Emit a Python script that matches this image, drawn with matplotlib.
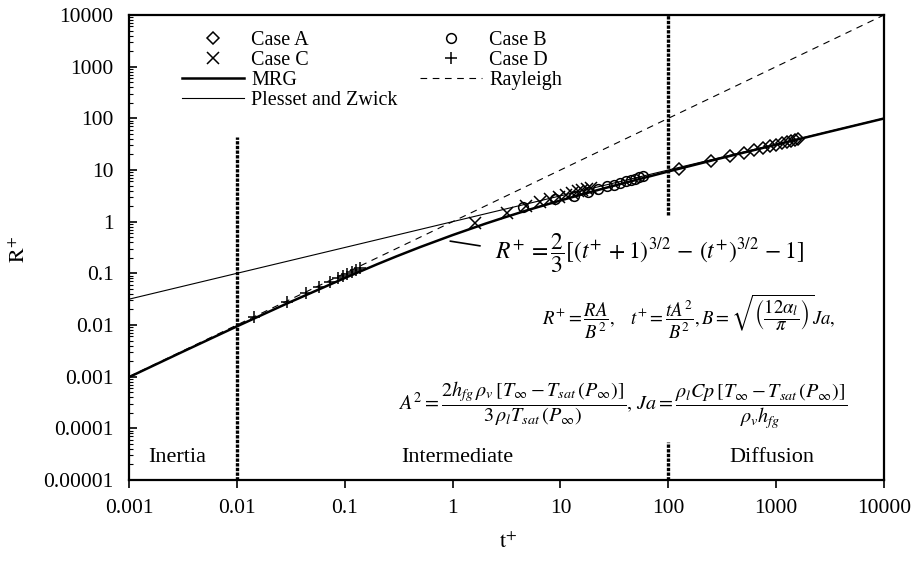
import matplotlib
matplotlib.use("Agg")
import matplotlib.pyplot as plt

plt.rcParams['font.family'] = ['Liberation Serif', 'DejaVu Serif']
plt.rcParams['mathtext.fontset'] = 'stix'

# data
case_a_t = [125, 250, 375, 500, 625, 750, 875, 1000, 1125, 1250, 1375, 1500, 1600]
case_a_r = [10.5, 15.1, 18.7, 21.7, 24.3, 26.7, 29.0, 31.0, 32.9, 34.7, 36.4, 38.0, 39.3]

case_b_t = [4.5, 9.0, 13.5, 18.0, 22.5, 27.0, 31.5, 36.0, 40.5, 45.0, 49.5, 54.0, 58.5]
case_b_r = [1.9, 2.7, 3.2, 3.7, 4.3, 4.8, 5.2, 5.6, 6.0, 6.4, 6.8, 7.2, 7.6]

case_c_t = [1.6, 3.2, 4.8, 6.4, 8.0, 9.6, 11.2, 12.8, 14.4, 16.0, 17.6, 19.2]
case_c_r = [0.95, 1.5, 2.0, 2.4, 2.75, 3.05, 3.35, 3.6, 3.85, 4.1, 4.3, 4.5]

case_d_t = [0.0145, 0.029, 0.0435, 0.058, 0.0725, 0.087, 0.0965, 0.106, 0.116, 0.128, 0.138]
case_d_r = [0.014, 0.028, 0.042, 0.055, 0.068, 0.080, 0.089, 0.097, 0.107, 0.118, 0.126]

mrg_t = [0.001, 0.003, 0.01, 0.03, 0.1, 0.2, 0.3, 0.5, 1, 2, 3, 5, 10, 20, 30, 100, 300, 1000, 3000, 10000]
mrg_r = [0.00098, 0.0029, 0.0094, 0.0268, 0.081, 0.150, 0.212, 0.322, 0.55, 0.91, 1.20, 1.68,
         2.57, 3.86, 4.85, 9.36, 16.7, 30.9, 54.1, 99.3]

rayleigh_t = [0.001, 10000]
rayleigh_r = [0.001, 10000]

pz_t = [0.001, 0.01, 0.1, 1, 10, 100, 1000, 10000]
pz_r = [0.0316, 0.1, 0.316, 1.0, 3.16, 10, 31.6, 100]

# regime boundary segments: t, bottom, top
boundary_t = [0.01, 100, 100]
boundary_bottom = [1e-5, 1e-5, 1.35]
boundary_top = [44, 5.5e-5, 10000]

x_ticks = [0.001, 0.01, 0.1, 1, 10, 100, 1000, 10000]
x_labels = ['0.001', '0.01', '0.1', '1', '10', '100', '1000', '10000']
y_ticks = [1e-5, 1e-4, 1e-3, 1e-2, 1e-1, 1, 10, 100, 1000, 10000]
y_labels = ['0.00001', '0.0001', '0.001', '0.01', '0.1', '1', '10', '100', '1000', '10000']

W, H = 913, 562
fig = plt.figure(figsize=(W / 100, H / 100), dpi=100)
ax = fig.add_axes([129 / W, 1 - 480 / H, (884 - 129) / W, (480 - 15) / H])
ax.set_xscale('log')
ax.set_yscale('log')

for bt, bb, btop in zip(boundary_t, boundary_bottom, boundary_top):
    ax.plot([bt, bt], [bb, btop], color='black', lw=2.4, ls=(0, (1, 0.4)), zorder=2)

l_pz, = ax.plot(pz_t, pz_r, color='black', lw=0.8)
l_ray, = ax.plot(rayleigh_t, rayleigh_r, color='black', lw=0.8, ls=(0, (6, 5)))
l_mrg, = ax.plot(mrg_t, mrg_r, color='black', lw=1.8)

m_a, = ax.plot(case_a_t, case_a_r, ls='none', marker='D', ms=6, mfc='none', mec='black', mew=1.1)
m_b, = ax.plot(case_b_t, case_b_r, ls='none', marker='o', ms=7, mfc='none', mec='black', mew=1.1)
m_c, = ax.plot(case_c_t, case_c_r, ls='none', marker='x', ms=8, color='black', mew=1.1)
m_d, = ax.plot(case_d_t, case_d_r, ls='none', marker='+', ms=9, color='black', mew=1.1)

ax.set_xlim(0.001, 10000)
ax.set_ylim(1e-5, 10000)
ax.set_xticks(x_ticks)
ax.set_xticklabels(x_labels)
ax.set_yticks(y_ticks)
ax.set_yticklabels(y_labels)
ax.xaxis.set_minor_locator(matplotlib.ticker.NullLocator())
ax.yaxis.set_minor_locator(matplotlib.ticker.LogLocator(base=10, subs=range(2, 10), numticks=20))
ax.yaxis.set_minor_formatter(matplotlib.ticker.NullFormatter())
ax.tick_params(axis='x', which='major', direction='out', length=6, width=1.2, labelsize=15.5, pad=8)
ax.tick_params(axis='y', which='major', direction='in', length=6, width=1.2, labelsize=15.5, pad=11)
ax.tick_params(axis='y', which='minor', direction='in', length=3, width=0.8)
for s in ax.spines.values():
    s.set_linewidth(1.6)

fig.text(508 / W, 1 - 543 / H, r'$\mathrm{t}^{+}$', fontsize=16, ha='center', va='center')
fig.text(20 / W, 1 - 249 / H, r'$\mathrm{R}^{+}$', fontsize=16, ha='center', va='center', rotation=90)

leg = ax.legend([m_a, m_c, l_mrg, l_pz, m_b, m_d, l_ray],
                ['Case A', 'Case C', 'MRG', 'Plesset and Zwick', 'Case B', 'Case D', 'Rayleigh'],
                ncol=2, frameon=False, fontsize=14.5, loc='upper left',
                bbox_to_anchor=(182 / W, 1 - 31 / H), bbox_transform=fig.transFigure,
                borderpad=0, borderaxespad=0, handlelength=3.1, handletextpad=0.35,
                labelspacing=0.05, columnspacing=1.1)

# region labels
fig.text(177 / W, 1 - 458 / H, 'Inertia', fontsize=16, ha='center', va='center')
fig.text(457 / W, 1 - 458 / H, 'Intermediate', fontsize=16, ha='center', va='center')
fig.text(772 / W, 1 - 458 / H, 'Diffusion', fontsize=16, ha='center', va='center')

# equations
ax.annotate('', xy=(0.95, 0.42), xytext=(1.8, 0.34),
            arrowprops=dict(arrowstyle='-', lw=1.2, color='black', shrinkA=0, shrinkB=0))
fig.text(495 / W, 1 - 253 / H,
         r'$R^{+}\,=\dfrac{2}{3}[(t^{+}\,+1)^{3/2}\,-\,(t^{+})^{3/2}\,-1]$',
         fontsize=17, ha='left', va='center')
fig.text(542 / W, 1 - 317 / H,
         r'$R^{+}=\dfrac{RA}{B^{2}},\quad t^{+}=\dfrac{tA^{2}}{B^{2}},B=\sqrt{\left(\dfrac{12\alpha_{l}}{\pi}\right)}Ja,$',
         fontsize=13.5, ha='left', va='center')
fig.text(398 / W, 1 - 405 / H,
         r'$A^{2}=\dfrac{2h_{fg}\,\rho_{v}\,[T_{\infty}-T_{sat}\,(P_{\infty})]}{3\,\rho_{l}T_{sat}\,(P_{\infty})},'
         r'\,Ja=\dfrac{\rho_{l}Cp\,[T_{\infty}-T_{sat}\,(P_{\infty})]}{\rho_{v}h_{fg}}$',
         fontsize=14.5, ha='left', va='center')

fig.savefig('out.png', dpi=100)
